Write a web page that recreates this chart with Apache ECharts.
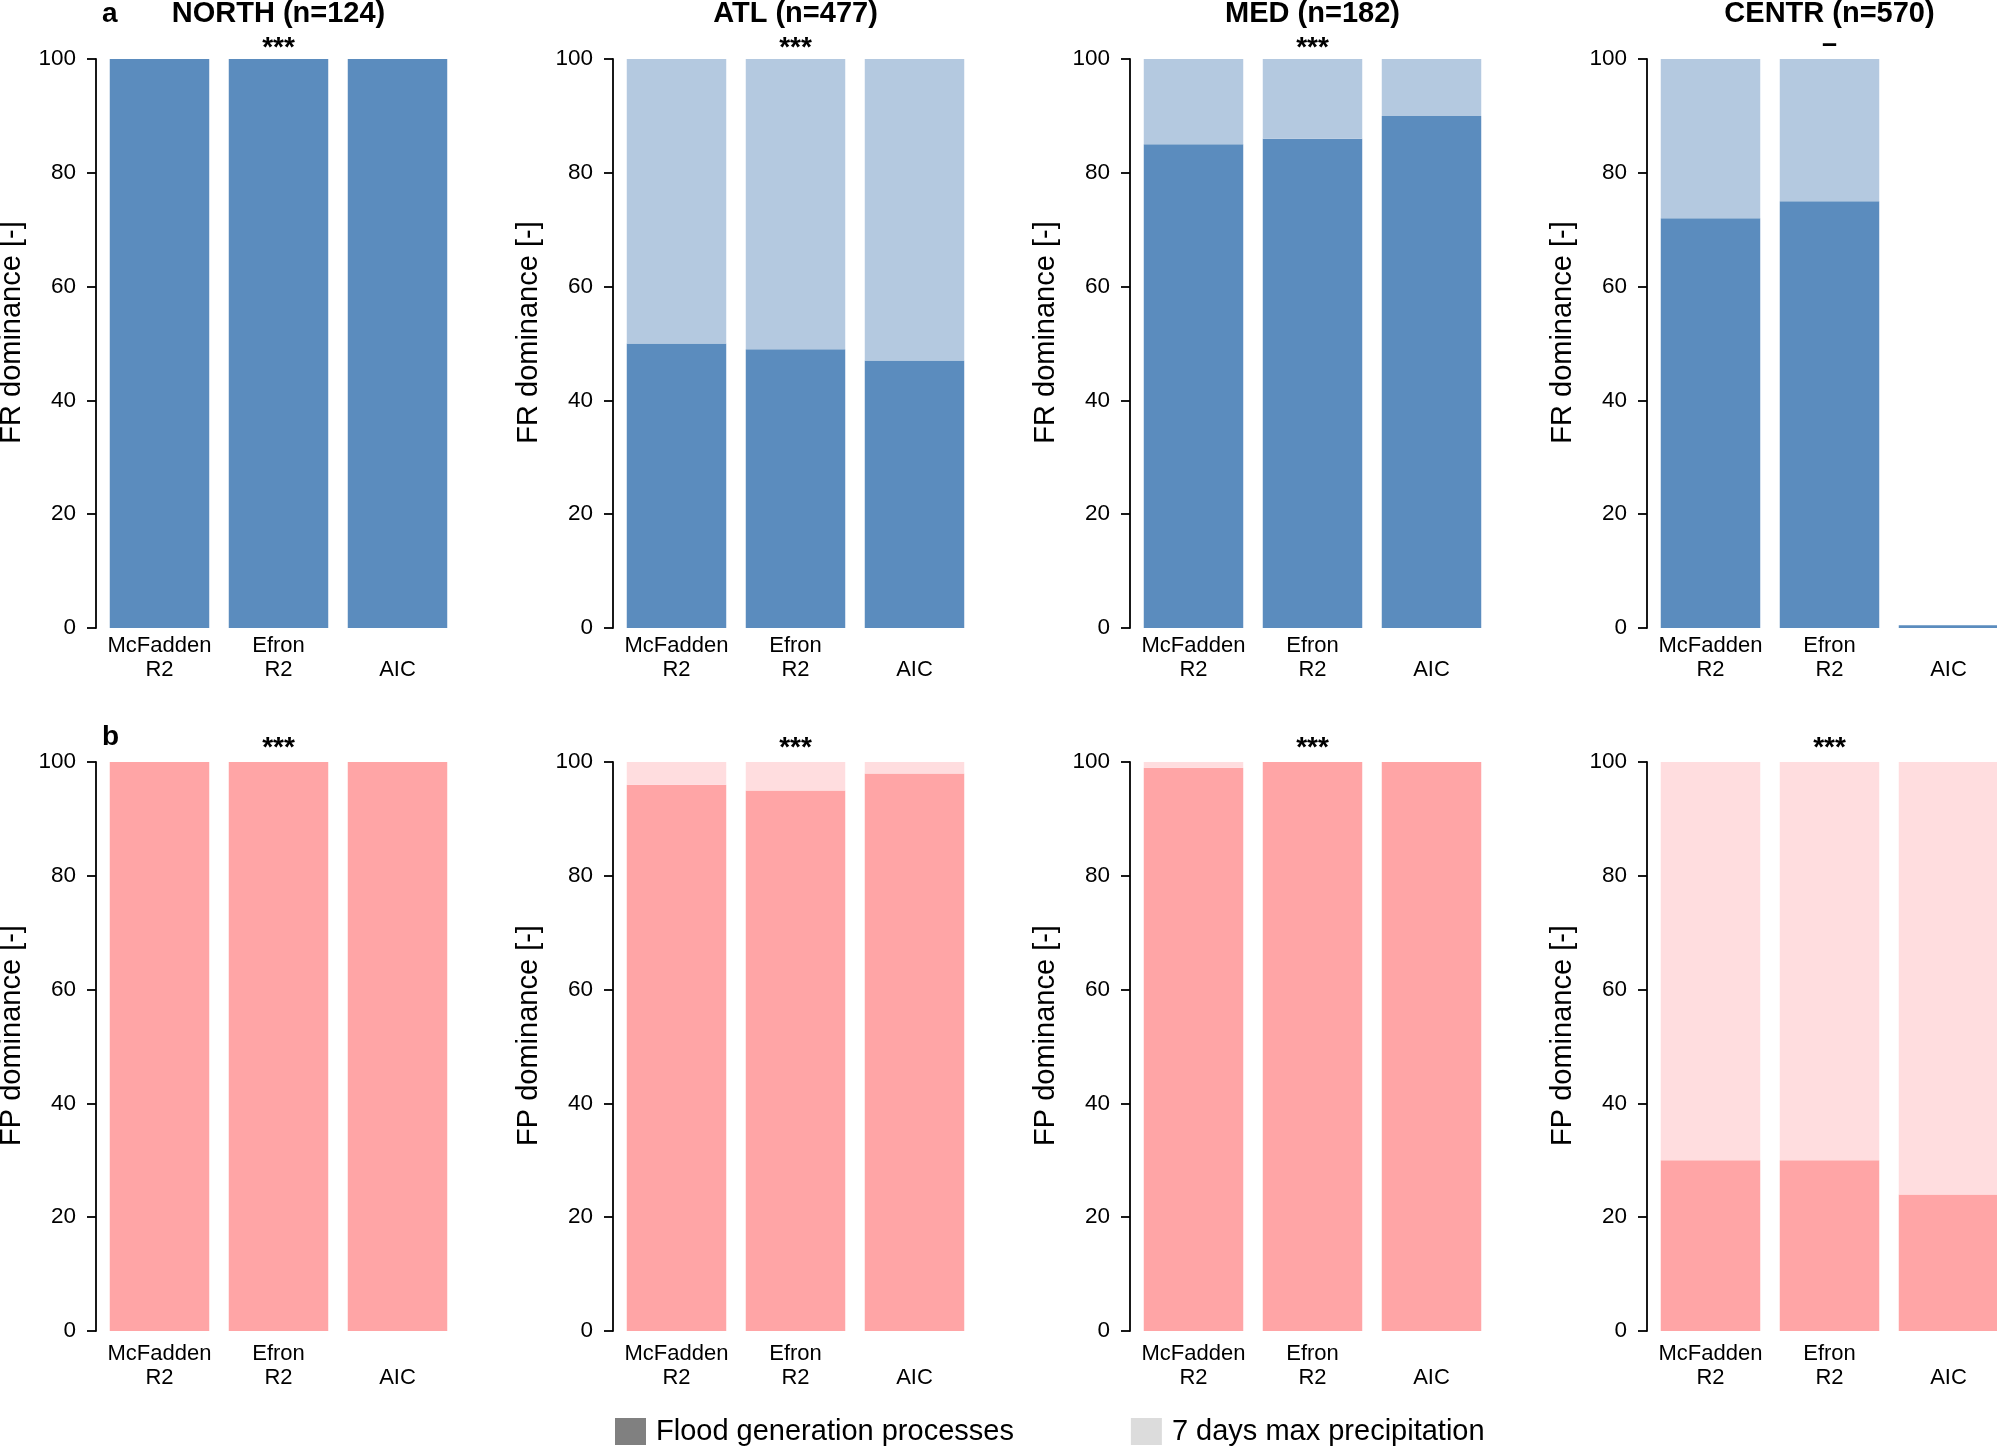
<!DOCTYPE html>
<html>
<head>
<meta charset="utf-8">
<style>
html,body{margin:0;padding:0;background:#fff;}
#chart{width:1997px;height:1448px;}
</style>
<script src="https://cdn.jsdelivr.net/npm/echarts@6/dist/echarts.min.js"></script>
</head>
<body>
<div id="chart"></div>
<script>
// ---- data ----
const categories = ['McFadden\nR2', 'Efron\nR2', 'AIC'];
const regions = ['NORTH (n=124)', 'ATL (n=477)', 'MED (n=182)', 'CENTR (n=570)'];
// Row a: FR dominance
const frMain  = [[100,100,100],[50,49,47],[85,86,90],[72,75,0.5]];
const frOther = [[0,0,0],[50,51,53],[15,14,10],[28,25,0]];
const frSignif = ['***','***','***','–'];
// Row b: FP dominance
const fpMain  = [[100,100,100],[96,95,98],[99,100,100],[30,30,24]];
const fpOther = [[0,0,0],[4,5,2],[1,0,0],[70,70,76]];
const fpSignif = ['***','***','***','***'];
const yTicks = [0,20,40,60,80,100];
const legendNames = ['Flood generation processes', '7 days max precipitation'];

// ---- layout / style ----
const FONT = '"Liberation Sans", Arial, sans-serif';
const gridLefts = [100, 617, 1134, 1651];
const gridW = 357;
const rowTops = [59, 762];
const gridH = 569;
const rowCfg = [
  {name: 'FR dominance [-]', main: frMain, other: frOther, signif: frSignif,
   cMain: '#5b8cbe', cOther: '#b4c9e0', letter: 'a', labMargin: 6, sigY: 48.5, letterY: 14},
  {name: 'FP dominance [-]', main: fpMain, other: fpOther, signif: fpSignif,
   cMain: '#ffa5a6', cOther: '#ffdddf', letter: 'b', labMargin: 11, sigY: 748, letterY: 737}
];

const grid = [], xAxis = [], yAxis = [], series = [], graphic = [];
let idx = 0;
rowCfg.forEach((row, r) => {
  regions.forEach((reg, c) => {
    grid.push({left: gridLefts[c], top: rowTops[r], width: gridW, height: gridH,
               containLabel: false, outerBoundsMode: 'none'});
    xAxis.push({
      type: 'category', gridIndex: idx, data: categories,
      axisLine: {show: false}, axisTick: {show: false}, splitLine: {show: false},
      axisLabel: {
        interval: 0, margin: row.labMargin, color: '#000', fontSize: 22, lineHeight: 24, fontFamily: FONT,
        formatter: v => v.indexOf('\n') >= 0 ? v : '\n' + v
      }
    });
    yAxis.push({
      type: 'value', gridIndex: idx, min: yTicks[0], max: yTicks[yTicks.length-1],
      interval: yTicks[1]-yTicks[0], offset: 4,
      name: row.name, nameLocation: 'middle', nameGap: 70, nameRotate: 90,
      nameTextStyle: {fontSize: 29, color: '#000', fontFamily: FONT, padding: [0,0,0,22]},
      axisLine: {show: true, lineStyle: {color: '#000', width: 1.8}},
      axisTick: {show: true, length: 9, lineStyle: {color: '#000', width: 1.8}},
      axisLabel: {color: '#000', fontSize: 22.5, fontFamily: FONT, margin: 20},
      splitLine: {show: false}
    });
    series.push({
      type: 'bar', xAxisIndex: idx, yAxisIndex: idx, stack: 's' + idx,
      data: row.main[c], barCategoryGap: '16.4%',
      itemStyle: {color: row.cMain}, silent: true, animation: false
    });
    series.push({
      type: 'bar', xAxisIndex: idx, yAxisIndex: idx, stack: 's' + idx,
      data: row.other[c], barCategoryGap: '16.4%',
      itemStyle: {color: row.cOther}, silent: true, animation: false
    });
    const isDash = row.signif[c] === '–';
    graphic.push({
      type: 'text', x: gridLefts[c] + gridW/2, y: isDash ? row.sigY - 4 : row.sigY,
      style: {text: row.signif[c], fill: '#000', font: 'bold ' + (isDash ? 27 : 28) + 'px ' + FONT,
              align: 'center', verticalAlign: 'middle'}
    });
    if (r === 0) {
      graphic.push({
        type: 'text', x: gridLefts[c] + gridW/2, y: 14,
        style: {text: reg, fill: '#000', font: 'bold 29px ' + FONT, align: 'center', verticalAlign: 'middle'}
      });
    }
    idx++;
  });
  graphic.push({
    type: 'text', x: 102, y: row.letterY,
    style: {text: row.letter, fill: '#000', font: 'bold 28px ' + FONT, align: 'left', verticalAlign: 'middle'}
  });
});

// legend-only series (empty, share the first panel's stack so they take no slot)
series.push({type: 'bar', name: legendNames[0], xAxisIndex: 0, yAxisIndex: 0, stack: 's0', data: [], barCategoryGap: '16.4%', itemStyle: {color: '#808080'}});
series.push({type: 'bar', name: legendNames[1], xAxisIndex: 0, yAxisIndex: 0, stack: 's0', data: [], barCategoryGap: '16.4%', itemStyle: {color: '#dcdcdc'}});

const option = {
  backgroundColor: '#fff',
  animation: false,
  grid, xAxis, yAxis, series, graphic,
  legend: {
    data: legendNames, left: 615, top: 1417, padding: 0,
    icon: 'rect', itemWidth: 31, itemHeight: 27, itemGap: 117,
    selectedMode: false,
    textStyle: {fontSize: 29, color: '#000', fontFamily: FONT, padding: [0,0,0,5]}
  }
};
const chart = echarts.init(document.getElementById('chart'), null, {renderer: 'canvas'});
chart.setOption(option);
</script>
</body>
</html>
